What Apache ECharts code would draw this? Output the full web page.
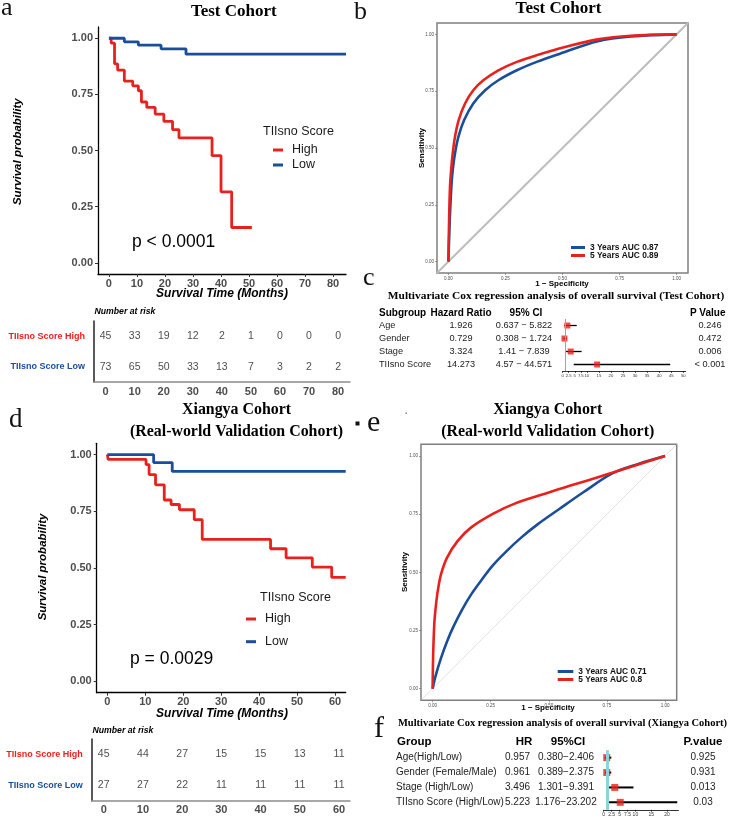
<!DOCTYPE html>
<html>
<head>
<meta charset="utf-8">
<script src="https://cdn.jsdelivr.net/npm/echarts@6/dist/echarts.min.js"></script>
<style>
  html, body { margin: 0; padding: 0; background: #fff; }
  #main { width: 729px; height: 821px; }
</style>
</head>
<body>
<div id="main"></div>
<script>
// ---- data ----
// a: Kaplan-Meier, test cohort (time of drop, survival after drop)
const testHighTime = [0, 0.8, 2.0, 3.1, 5.5, 8.5, 10.5, 11.6, 13.5, 16.5, 19.6, 22.7, 25.0, 36.8, 40.0, 43.8, 51.0];
const testHighSurv = [1, 0.978, 0.886, 0.858, 0.809, 0.788, 0.766, 0.716, 0.692, 0.662, 0.630, 0.593, 0.556, 0.477, 0.316, 0.157, 0.157];
const testLowTime = [0, 5.5, 10.5, 18.6, 27.5, 84.6];
const testLowSurv = [1, 0.984, 0.969, 0.953, 0.929, 0.929];
const testRiskTimes = [0, 10, 20, 30, 40, 50, 60, 70, 80];
const testRiskHigh = [45, 33, 19, 12, 2, 1, 0, 0, 0];
const testRiskLow = [73, 65, 50, 33, 13, 7, 3, 2, 2];

// d: Kaplan-Meier, Xiangya cohort
const xyHighTime = [0, 0.2, 10.2, 11.0, 12.7, 15.0, 16.8, 19.0, 22.9, 25.0, 43.0, 47.1, 54.0, 59.1, 62.8];
const xyHighSurv = [1, 0.979, 0.956, 0.912, 0.867, 0.800, 0.780, 0.757, 0.713, 0.626, 0.585, 0.545, 0.504, 0.459, 0.459];
const xyLowTime = [0, 12.2, 17.1, 62.8];
const xyLowSurv = [1, 0.965, 0.926, 0.926];
const xyRiskTimes = [0, 10, 20, 30, 40, 50, 60];
const xyRiskHigh = [45, 44, 27, 15, 15, 13, 11];
const xyRiskLow = [27, 27, 22, 11, 11, 11, 11];

// b: ROC, test cohort
const testFpr3 = [0, 0.006, 0.013, 0.019, 0.029, 0.044, 0.069, 0.109, 0.161, 0.219, 0.3, 0.387, 0.489, 0.655, 0.8, 1];
const testTpr3 = [0, 0.184, 0.33, 0.404, 0.477, 0.55, 0.623, 0.696, 0.754, 0.798, 0.842, 0.879, 0.915, 0.97, 0.991, 1];
const testFpr5 = [0, 0.003, 0.007, 0.012, 0.019, 0.029, 0.045, 0.073, 0.109, 0.153, 0.219, 0.3, 0.387, 0.511, 0.655, 0.8, 1];
const testTpr5 = [0, 0.184, 0.33, 0.404, 0.477, 0.55, 0.623, 0.696, 0.754, 0.798, 0.842, 0.879, 0.908, 0.944, 0.978, 0.994, 1];

// e: ROC, Xiangya cohort
const xyFpr3 = [0, 0.014, 0.036, 0.062, 0.091, 0.127, 0.166, 0.209, 0.259, 0.317, 0.382, 0.45, 0.542, 0.65, 0.773, 0.888, 1];
const xyTpr3 = [0, 0.059, 0.131, 0.203, 0.27, 0.34, 0.405, 0.465, 0.53, 0.59, 0.65, 0.705, 0.77, 0.845, 0.925, 0.967, 1];
const xyFpr5 = [0, 0.002, 0.007, 0.013, 0.022, 0.036, 0.062, 0.108, 0.166, 0.259, 0.353, 0.483, 0.612, 0.728, 0.773, 0.888, 1];
const xyTpr5 = [0, 0.131, 0.275, 0.347, 0.419, 0.491, 0.563, 0.635, 0.693, 0.751, 0.795, 0.838, 0.878, 0.914, 0.928, 0.964, 1];
const rocDiagonal = [-0.05, 1.05];
const rocTicks = [0, 0.25, 0.5, 0.75, 1];

// c: multivariate Cox, test cohort
const testCoxVars = ['Age', 'Gender', 'Stage', 'TIIsno Score'];
const testCoxHR = [1.926, 0.729, 3.324, 14.273];
const testCoxLow = [0.637, 0.308, 1.41, 4.57];
const testCoxHigh = [5.822, 1.724, 7.839, 44.571];
const testCoxP = ['0.246', '0.472', '0.006', '< 0.001'];
const testForestTicks = [0, 2.5, 5, 7.5, 10, 15, 20, 25, 30, 35, 40, 45, 50];

// f: multivariate Cox, Xiangya cohort
const xyCoxVars = ['Age(High/Low)', 'Gender (Female/Male)', 'Stage (High/Low)', 'TIIsno Score (High/Low)'];
const xyCoxHR = [0.957, 0.961, 3.496, 5.223];
const xyCoxLow = [0.380, 0.389, 1.301, 1.176];
const xyCoxHigh = [2.406, 2.375, 9.391, 23.202];
const xyCoxP = ['0.925', '0.931', '0.013', '0.03'];
const xyForestTicks = [0, 2.5, 5, 7.5, 10, 15, 20];

const kmTicksTest = [0, 10, 20, 30, 40, 50, 60, 70, 80];
const kmTicksXy = [0, 10, 20, 30, 40, 50, 60];
const survTicks = [0, 0.25, 0.5, 0.75, 1];
const riskRows = ['TIIsno Score High', 'TIIsno Score Low'];

// ---- styling ----
const RED = '#e8211d', BLUE = '#1a4e9a';
const SANS = '"Liberation Sans", Arial, sans-serif';
const SERIF = '"Liberation Serif", "Times New Roman", serif';

const grids = [
  { left: 98, top: 27, width: 248, height: 247 },            // 0 a KM
  { left: 94, top: 321, width: 256, height: 61 },            // 1 a risk table
  { left: 437, top: 23, width: 251, height: 250, show: true, borderColor: '#7f7f7f', borderWidth: 1.5, backgroundColor: 'transparent' }, // 2 b ROC
  { left: 562.7, top: 319, width: 123, height: 52 },         // 3 c forest
  { left: 96.7, top: 443.3, width: 249, height: 249.4 },     // 4 d KM
  { left: 91.7, top: 739, width: 258.3, height: 61.7 },      // 5 d risk table
  { left: 421, top: 444.3, width: 255.7, height: 256, show: true, borderColor: '#7f7f7f', borderWidth: 1.5, backgroundColor: 'transparent' }, // 6 e ROC
  { left: 603.7, top: 750.2, width: 74.8, height: 59.6 }     // 7 f forest
];

const pairs = (xs, ys) => xs.map((x, i) => [x, ys[i]]);

function kmX(g, min, max, ticks) {
  return {
    gridIndex: g, type: 'value', min, max,
    axisLine: { show: true, onZero: false, lineStyle: { color: '#000', width: 1.3 } },
    axisTick: { show: true, customValues: ticks, length: 3, lineStyle: { color: '#333' } },
    axisLabel: { customValues: ticks, fontFamily: SANS, fontSize: 11, fontWeight: 'bold', color: '#4d4d4d', margin: 4 },
    splitLine: { show: false }
  };
}
function kmY(g) {
  return {
    gridIndex: g, type: 'value', min: -0.05, max: 1.05,
    axisLine: { show: true, onZero: false, lineStyle: { color: '#000', width: 1.3 } },
    axisTick: { show: true, customValues: survTicks, length: 3, lineStyle: { color: '#333' } },
    axisLabel: { customValues: survTicks, formatter: v => v.toFixed(2), fontFamily: SANS, fontSize: 11, fontWeight: 'bold', color: '#4d4d4d', margin: 5 },
    splitLine: { show: false }
  };
}
function riskX(g, min, max, ticks) {
  return {
    gridIndex: g, type: 'value', min, max,
    axisLine: { show: true, onZero: false, lineStyle: { color: '#8c8c8c', width: 1.5 } },
    axisTick: { show: false },
    axisLabel: { customValues: ticks, fontFamily: SANS, fontSize: 11, fontWeight: 'bold', color: '#4d4d4d', margin: 4 },
    splitLine: { show: false }
  };
}
function riskY(g) {
  return {
    gridIndex: g, type: 'value', min: -0.5, max: 1.5, inverse: true,
    axisLine: { show: true, onZero: false, lineStyle: { color: '#222', width: 1.5 } },
    axisTick: { show: false },
    splitLine: { show: false },
    axisLabel: {
      customValues: [0, 1], formatter: v => riskRows[Math.round(v)],
      fontFamily: SANS, fontSize: 9, fontWeight: 'bold', margin: 9,
      color: (v, i) => (String(v).indexOf('High') >= 0 || Number(v) === 0 ? RED : BLUE)
    }
  };
}
function rocAxis(g) {
  return {
    gridIndex: g, type: 'value', min: -0.05, max: 1.05,
    axisLine: { show: false, onZero: false },
    axisTick: { show: true, customValues: rocTicks, length: 2, lineStyle: { color: '#666', width: 0.6 } },
    axisLabel: { customValues: rocTicks, formatter: v => v.toFixed(2), fontFamily: SANS, fontSize: 4.5, color: '#4d4d4d', margin: 3 },
    splitLine: { show: false }
  };
}
function forestX(g, max, ticks, fs) {
  return {
    gridIndex: g, type: 'value', min: 0, max,
    axisLine: { show: true, onZero: false, lineStyle: { color: '#000', width: 0.8 } },
    axisTick: { show: true, customValues: ticks, length: 2, lineStyle: { color: '#000', width: 0.6 } },
    axisLabel: { customValues: ticks, fontFamily: SANS, fontSize: fs, color: '#333', margin: 2.5 },
    splitLine: { show: false }
  };
}
function forestY(g, n) {
  return { gridIndex: g, type: 'value', min: -0.5, max: n - 0.5, inverse: true, show: false };
}

function kmLine(name, color, ai, xs, ys) {
  return {
    type: 'line', name, xAxisIndex: ai, yAxisIndex: ai, data: pairs(xs, ys), step: 'end',
    symbol: 'none', color, lineStyle: { color, width: 2.8 }, silent: true
  };
}
function riskSeries(ai, times, counts, row) {
  return {
    type: 'scatter', xAxisIndex: ai, yAxisIndex: ai, symbolSize: 1, silent: true,
    itemStyle: { color: 'rgba(0,0,0,0)' },
    data: times.map((t, i) => [t, row, counts[i]]),
    label: { show: true, position: 'inside', formatter: p => p.value[2], fontFamily: SANS, fontSize: 10.5, color: '#1a1a1a' }
  };
}
function rocLine(name, color, ai, fpr, tpr) {
  return {
    type: 'line', name, xAxisIndex: ai, yAxisIndex: ai, data: pairs(fpr, tpr), smooth: 0.35,
    symbol: 'none', color, lineStyle: { color, width: 2.6 }, silent: true
  };
}
function rocDiag(ai, color, width) {
  return {
    type: 'line', xAxisIndex: ai, yAxisIndex: ai, data: pairs(rocDiagonal, rocDiagonal),
    symbol: 'none', lineStyle: { color, width }, silent: true, z: 1
  };
}
function forestCI(ai, lo, hi, width, refColor, refWidth) {
  return {
    type: 'custom', xAxisIndex: ai, yAxisIndex: ai, silent: true, z: 2,
    data: lo.map((l, i) => [l, hi[i], i]),
    encode: { x: [0, 1], y: 2 },
    renderItem: (params, api) => {
      const a = api.coord([api.value(0), api.value(2)]);
      const b = api.coord([api.value(1), api.value(2)]);
      return { type: 'line', shape: { x1: a[0], y1: a[1], x2: b[0], y2: b[1] }, style: { stroke: '#000', lineWidth: width } };
    },
    markLine: { silent: true, symbol: 'none', label: { show: false }, lineStyle: { color: refColor, width: refWidth, type: 'solid' }, data: [{ xAxis: 1 }] }
  };
}
function forestBox(ai, hr, size) {
  return {
    type: 'scatter', xAxisIndex: ai, yAxisIndex: ai, symbol: 'rect', symbolSize: size, silent: true, z: 3,
    data: hr.map((h, i) => [h, i]), itemStyle: { color: RED }
  };
}

// text helpers
function T(x, y, text, font, fill, align, rotation) {
  return {
    type: 'text', x, y, rotation: rotation || 0, silent: true,
    style: { text, font, fill: fill || '#000', align: align || 'center', verticalAlign: 'middle', textAlign: align || 'center', textVerticalAlign: 'middle' }
  };
}
const rowY = (g, i, n) => grids[g].top + (i + 0.5) * grids[g].height / n;

const graphics = [];
// panel letters
graphics.push(T(1, 8.5, 'a', '26px ' + SERIF, '#111', 'left'));
graphics.push(T(354, 12, 'b', '26px ' + SERIF, '#111', 'left'));
graphics.push(T(363, 278, 'c', '26px ' + SERIF, '#111', 'left'));
graphics.push(T(9, 420, 'd', '27px ' + SERIF, '#111', 'left'));
graphics.push(T(367, 423, 'e', '30px ' + SERIF, '#111', 'left'));
graphics.push(T(374, 729, 'f', '30px ' + SERIF, '#111', 'left'));
graphics.push({ type: 'rect', silent: true, shape: { x: 355.5, y: 421.5, width: 4, height: 4 }, style: { fill: '#111' } });
graphics.push({ type: 'rect', silent: true, shape: { x: 405.5, y: 412.5, width: 1.5, height: 1.5 }, style: { fill: '#888' } });

// titles
graphics.push(T(233.8, 12, 'Test Cohort', 'bold 17px ' + SERIF));
graphics.push(T(558.5, 9, 'Test Cohort', 'bold 17px ' + SERIF));
graphics.push(T(236.5, 410, 'Xiangya Cohort', 'bold 15.9px ' + SERIF));
graphics.push(T(236.5, 432, '(Real-world Validation Cohort)', 'bold 15.9px ' + SERIF));
graphics.push(T(547.7, 410, 'Xiangya Cohort', 'bold 15.9px ' + SERIF));
graphics.push(T(547.7, 432, '(Real-world Validation Cohort)', 'bold 15.9px ' + SERIF));
graphics.push(T(556, 296, 'Multivariate Cox regression analysis of overall survival (Test Cohort)', 'bold 11.4px ' + SERIF));
graphics.push(T(562.5, 723.3, 'Multivariate Cox regression analysis of overall survival (Xiangya Cohort)', 'bold 10.5px ' + SERIF));

// KM axis names, p values, legend titles, risk headings
graphics.push(T(18.3, 151.7, 'Survival probability', 'italic bold 11.5px ' + SANS, '#000', 'center', Math.PI / 2));
graphics.push(T(222, 294, 'Survival Time (Months)', 'italic bold 12px ' + SANS));
graphics.push(T(43, 567, 'Survival probability', 'italic bold 11.5px ' + SANS, '#000', 'center', Math.PI / 2));
graphics.push(T(222, 714, 'Survival Time (Months)', 'italic bold 12px ' + SANS));
graphics.push(T(132, 242, 'p < 0.0001', '17.5px ' + SANS, '#000', 'left'));
graphics.push(T(130, 659, 'p = 0.0029', '17.5px ' + SANS, '#000', 'left'));
graphics.push(T(263, 132, 'TIIsno Score', '12.5px ' + SANS, '#1a1a1a', 'left'));
graphics.push(T(260, 598, 'TIIsno Score', '12.5px ' + SANS, '#1a1a1a', 'left'));
graphics.push(T(94.5, 312, 'Number at risk', 'italic bold 8.7px ' + SANS, '#000', 'left'));
graphics.push(T(92.5, 731, 'Number at risk', 'italic bold 8.7px ' + SANS, '#000', 'left'));

// ROC axis names
graphics.push(T(421.7, 148, 'Sensitivity', 'bold 8px ' + SANS, '#000', 'center', Math.PI / 2));
graphics.push(T(562, 284, '1 \u2212 Specificity', 'bold 8px ' + SANS));
graphics.push(T(405, 572, 'Sensitivity', 'bold 8px ' + SANS, '#000', 'center', Math.PI / 2));
graphics.push(T(548, 708, '1 \u2212 Specificity', 'bold 8px ' + SANS));

// forest table c
{
  const hf = 'bold 10px ' + SANS, rf = '9.2px ' + SANS, hy = 313;
  graphics.push(T(379, hy, 'Subgroup', hf, '#000', 'left'));
  graphics.push(T(461, hy, 'Hazard Ratio', hf));
  graphics.push(T(526, hy, '95% CI', hf));
  graphics.push(T(725.5, hy, 'P Value', hf, '#000', 'right'));
  testCoxVars.forEach((v, i) => {
    const y = rowY(3, i, testCoxVars.length);
    graphics.push(T(379, y, v, rf, '#222', 'left'));
    graphics.push(T(461, y, String(testCoxHR[i]), rf, '#222'));
    graphics.push(T(524, y, String(testCoxLow[i]) + ' \u2212 ' + String(testCoxHigh[i]), rf, '#222'));
    graphics.push(T(710, y, testCoxP[i], rf, '#222'));
  });
}
// forest table f
{
  const hf = 'bold 11.5px ' + SANS, rf = '10px ' + SANS, hy = 742.3;
  graphics.push(T(397, hy, 'Group', hf, '#000', 'left'));
  graphics.push(T(524, hy, 'HR', hf));
  graphics.push(T(568, hy, '95%CI', hf));
  graphics.push(T(703, hy, 'P.value', hf));
  xyCoxVars.forEach((v, i) => {
    const y = rowY(7, i, xyCoxVars.length);
    graphics.push(T(396, y, v, rf, '#222', 'left'));
    graphics.push(T(530, y, xyCoxHR[i].toFixed(3), rf, '#222', 'right'));
    graphics.push(T(566, y, xyCoxLow[i].toFixed(3) + '\u2212' + xyCoxHigh[i].toFixed(3), rf, '#222'));
    graphics.push(T(703, y, xyCoxP[i], rf, '#222'));
  });
}

const kmLegend = (left, top, gap) => ({
  data: ['High', 'Low'], left, top, orient: 'vertical', icon: 'rect', itemWidth: 10, itemHeight: 3,
  itemGap: gap, selectedMode: false, padding: 0,
  textStyle: { fontFamily: SANS, fontSize: 12.5, color: '#1a1a1a', padding: [0, 0, 0, 4] }
});
const rocLegend = (names, left, top, w) => ({
  data: names, left, top, orient: 'vertical', icon: 'rect', itemWidth: w, itemHeight: 3,
  itemGap: 0, selectedMode: false, padding: 0,
  textStyle: { fontFamily: SANS, fontSize: 8.4, fontWeight: 'bold', color: '#111' }
});

const chart = echarts.init(document.getElementById('main'), null, { renderer: 'canvas' });
chart.setOption({
  animation: false,
  backgroundColor: '#fff',
  grid: grids,
  xAxis: [
    kmX(0, -3.9, 84.6, kmTicksTest),
    riskX(1, -4, 84.1, kmTicksTest),
    rocAxis(2),
    forestX(3, 51, testForestTicks, 4.2),
    kmX(4, -2.8, 62.8, kmTicksXy),
    riskX(5, -3.06, 62.8, kmTicksXy),
    rocAxis(6),
    forestX(7, 23.6, xyForestTicks, 5)
  ],
  yAxis: [
    kmY(0),
    riskY(1),
    rocAxis(2),
    forestY(3, testCoxVars.length),
    kmY(4),
    riskY(5),
    rocAxis(6),
    forestY(7, xyCoxVars.length)
  ],
  legend: [
    kmLegend(273, 143.5, 2),
    kmLegend(246, 612.5, 9.7),
    rocLegend(['3 Years AUC 0.87', '5 Years AUC 0.89'], 571, 243.5, 14),
    rocLegend(['3 Years AUC 0.71', '5 Years AUC 0.8'], 557.7, 667.5, 15.6)
  ],
  series: [
    kmLine('High', RED, 0, testHighTime, testHighSurv),
    kmLine('Low', BLUE, 0, testLowTime, testLowSurv),
    riskSeries(1, testRiskTimes, testRiskHigh, 0),
    riskSeries(1, testRiskTimes, testRiskLow, 1),
    rocDiag(2, '#bdbdbd', 2),
    rocLine('3 Years AUC 0.87', BLUE, 2, testFpr3, testTpr3),
    rocLine('5 Years AUC 0.89', RED, 2, testFpr5, testTpr5),
    forestCI(3, testCoxLow, testCoxHigh, 1.3, '#5bbfc8', 1),
    forestBox(3, testCoxHR, 6),
    kmLine('High', RED, 4, xyHighTime, xyHighSurv),
    kmLine('Low', BLUE, 4, xyLowTime, xyLowSurv),
    riskSeries(5, xyRiskTimes, xyRiskHigh, 0),
    riskSeries(5, xyRiskTimes, xyRiskLow, 1),
    rocDiag(6, '#cccccc', 0.6),
    rocLine('3 Years AUC 0.71', BLUE, 6, xyFpr3, xyTpr3),
    rocLine('5 Years AUC 0.8', RED, 6, xyFpr5, xyTpr5),
    forestCI(7, xyCoxLow, xyCoxHigh, 2, '#8fd3da', 3),
    forestBox(7, xyCoxHR, 7)
  ],
  graphic: { elements: graphics }
});
</script>
</body>
</html>
